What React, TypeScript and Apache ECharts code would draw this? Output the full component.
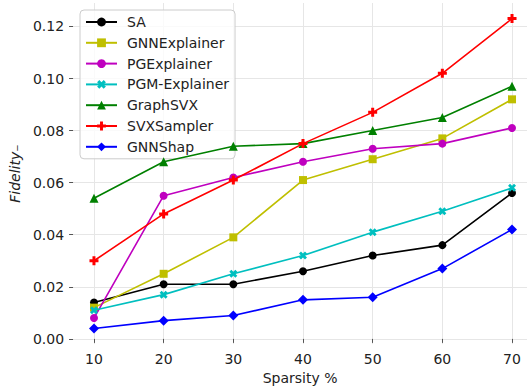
import React, { useEffect, useRef } from "react";
import * as echarts from "echarts";

const sparsity = [10, 20, 30, 40, 50, 60, 70];
const xTicks = [10, 20, 30, 40, 50, 60, 70];
const yTicks = [0, 0.02, 0.04, 0.06, 0.08, 0.1, 0.12];

const saValues = [0.014, 0.021, 0.021, 0.026, 0.032, 0.036, 0.056];
const gnnExplainerValues = [0.012, 0.025, 0.039, 0.061, 0.069, 0.077, 0.092];
const pgExplainerValues = [0.008, 0.055, 0.062, 0.068, 0.073, 0.075, 0.081];
const pgmExplainerValues = [0.011, 0.017, 0.025, 0.032, 0.041, 0.049, 0.058];
const graphSvxValues = [0.054, 0.068, 0.074, 0.075, 0.080, 0.085, 0.097];
const svxSamplerValues = [0.030, 0.048, 0.061, 0.075, 0.087, 0.102, 0.123];
const gnnShapValues = [0.004, 0.007, 0.009, 0.015, 0.016, 0.027, 0.042];

const X_PATH = "path://M-1,-2L0,-1L1,-2L2,-1L1,0L2,1L1,2L0,1L-1,2L-2,1L-1,0L-2,-1Z";
const P_PATH = "path://M-1,-3L1,-3L1,-1L3,-1L3,1L1,1L1,3L-1,3L-1,1L-3,1L-3,-1L-1,-1Z";

const seriesDefs = [
  { name: "SA", values: saValues, color: "#000000", symbol: "circle", size: 8 },
  { name: "GNNExplainer", values: gnnExplainerValues, color: "#bfbf00", symbol: "rect", size: 8 },
  { name: "PGExplainer", values: pgExplainerValues, color: "#bf00bf", symbol: "circle", size: 8 },
  { name: "PGM-Explainer", values: pgmExplainerValues, color: "#00bfbf", symbol: X_PATH, size: 8 },
  { name: "GraphSVX", values: graphSvxValues, color: "#008000", symbol: "triangle", size: 9 },
  { name: "SVXSampler", values: svxSamplerValues, color: "#ff0000", symbol: P_PATH, size: 9 },
  { name: "GNNShap", values: gnnShapValues, color: "#0000ff", symbol: "diamond", size: 10 },
];

const FONT = "DejaVu Sans";

export default function App() {
  const ref = useRef<HTMLDivElement>(null);
  useEffect(() => {
    document.body.style.margin = "0";
    if (!ref.current) return;
    const chart = echarts.init(ref.current, undefined, { renderer: "svg" });
    chart.setOption({
      animation: false,
      backgroundColor: "#ffffff",
      textStyle: { fontFamily: FONT },
      grid: { left: 73, top: 3, right: 0, height: 345, containLabel: false },
      legend: {
        orient: "vertical",
        left: 80,
        top: 10,
        padding: [5, 6, 5, 5],
        itemWidth: 31,
        itemHeight: 11,
        itemGap: 6.8,
        backgroundColor: "rgba(255,255,255,0.8)",
        borderColor: "#cccccc",
        borderWidth: 1,
        borderRadius: 4,
        textStyle: { fontFamily: FONT, fontSize: 14, color: "#222", padding: [0, 0, 0, 5] },
        data: seriesDefs.map((s) => s.name),
      },
      xAxis: {
        type: "value",
        min: 7,
        max: 72.15,
        name: "Sparsity %",
        nameLocation: "middle",
        nameGap: 26,
        nameTextStyle: { fontFamily: FONT, fontSize: 14, color: "#222" },
        axisLine: { show: false },
        axisTick: { show: true, length: 4, lineStyle: { color: "#555" }, customValues: xTicks },
        axisLabel: { fontFamily: FONT, fontSize: 14, color: "#222", margin: 8, customValues: xTicks },
        splitLine: { show: true, lineStyle: { color: "#e6e6e6", width: 1 } },
      },
      yAxis: {
        type: "value",
        min: -0.002,
        max: 0.129,
        name: "Fidelity₋",
        nameLocation: "middle",
        nameGap: 48,
        nameTextStyle: { fontFamily: FONT, fontSize: 14, color: "#222", fontStyle: "italic" },
        axisLine: { show: false },
        axisTick: { show: true, length: 4, lineStyle: { color: "#555" }, customValues: yTicks },
        axisLabel: {
          fontFamily: FONT,
          fontSize: 14,
          color: "#222",
          margin: 9,
          customValues: yTicks,
          formatter: (v: number) => v.toFixed(2),
        },
        splitLine: { show: true, lineStyle: { color: "#e6e6e6", width: 1 } },
      },
      series: seriesDefs.map((s, i) => ({
        name: s.name,
        type: "line",
        data: s.values.map((v, j) => [sparsity[j], v]),
        symbol: s.symbol,
        symbolSize: s.size,
        showAllSymbol: true,
        z: 2 + i,
        lineStyle: { color: s.color, width: 1.6 },
        itemStyle: { color: s.color, borderColor: s.color, borderWidth: 0 },
        emphasis: { disabled: true },
      })),
    });
    return () => chart.dispose();
  }, []);
  return <div ref={ref} style={{ width: 527, height: 390 }} />;
}
